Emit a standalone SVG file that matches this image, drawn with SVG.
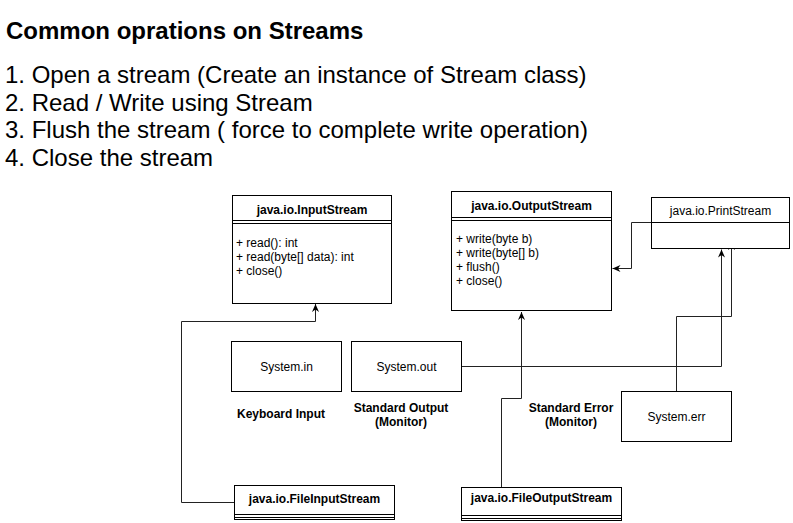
<svg xmlns="http://www.w3.org/2000/svg" width="793" height="523" viewBox="0 0 793 523">
  <style>
    .box { fill: #ffffff; stroke: #000000; stroke-width: 1; }
    .sep { stroke: #000000; stroke-width: 1; fill: none; }
    .edge { fill: none; stroke: #222222; stroke-width: 1; }
    text { font-family: "Liberation Sans", Arial, sans-serif; fill: #000000; }
    .h1 { font-size: 24px; font-weight: bold; }
    .list { font-size: 24px; }
    .cls { font-size: 12px; font-weight: bold; text-anchor: middle; }
    .member { font-size: 12px; }
    .name { font-size: 12px; text-anchor: middle; }
    .note { font-size: 12px; font-weight: bold; text-anchor: middle; }
  </style>
  <defs>
    <marker id="arrow" markerUnits="userSpaceOnUse" markerWidth="9" markerHeight="8" refX="8" refY="3.5" orient="auto">
      <path d="M0,0 L8,3.5 L0,7 L2.5,3.5 z" fill="#000000"/>
    </marker>
  </defs>

  <!-- heading and step list -->
  <g id="heading">
    <text class="h1" x="6" y="39">Common oprations on Streams</text>
  </g>
  <g id="steps">
    <text class="list" x="5" y="83">1. Open a stream (Create an instance of Stream class)</text>
    <text class="list" x="5" y="110.6">2. Read / Write using Stream</text>
    <text class="list" x="5" y="138.2">3. Flush the stream ( force to complete write operation)</text>
    <text class="list" x="5" y="165.8">4. Close the stream</text>
  </g>

  <!-- connectors -->
  <g id="connectors">
    <path class="edge" d="M234.5,502.5 H181.5 V321.5 H315.5 V304" marker-end="url(#arrow)"/>
    <path class="edge" d="M501.5,487.5 V398.5 H521.5 V312" marker-end="url(#arrow)"/>
    <path class="edge" d="M461.5,366.5 H721.5 V249.5" marker-end="url(#arrow)"/>
    <path class="edge" d="M676.5,391.5 V316.5 H731.5 V242" marker-end="url(#arrow)"/>
    <path class="edge" d="M651.5,222.5 H631.5 V268.5 H612.5" marker-end="url(#arrow)"/>
  </g>

  <!-- class boxes -->
  <g id="InputStream">
    <rect class="box" x="232.5" y="195.5" width="159" height="108"/>
    <path class="sep" d="M232.5,220.5 H391.5 M232.5,223.5 H391.5"/>
    <text class="cls" x="312" y="213.5">java.io.InputStream</text>
    <text class="member" x="236" y="246.5">+ read(): int</text>
    <text class="member" x="236" y="260.5">+ read(byte[] data): int</text>
    <text class="member" x="236" y="274.5">+ close()</text>
  </g>

  <g id="OutputStream">
    <rect class="box" x="451.5" y="191.5" width="160" height="119"/>
    <path class="sep" d="M451.5,217.5 H611.5 M451.5,220.5 H611.5"/>
    <text class="cls" x="531.5" y="209.5">java.io.OutputStream</text>
    <text class="member" x="456" y="242.5">+ write(byte b)</text>
    <text class="member" x="456" y="256.5">+ write(byte[] b)</text>
    <text class="member" x="456" y="270.5">+ flush()</text>
    <text class="member" x="456" y="284.5">+ close()</text>
  </g>

  <g id="PrintStream">
    <rect class="box" x="651.5" y="197.5" width="138" height="51"/>
    <path class="sep" d="M651.5,222.5 H789.5"/>
    <text class="name" x="720.5" y="214.5">java.io.PrintStream</text>
  </g>

  <g id="SystemIn">
    <rect class="box" x="231.5" y="341.5" width="110" height="50"/>
    <text class="name" x="286.5" y="370.5">System.in</text>
  </g>

  <g id="SystemOut">
    <rect class="box" x="351.5" y="341.5" width="110" height="50"/>
    <text class="name" x="406.5" y="370.5">System.out</text>
  </g>

  <g id="SystemErr">
    <rect class="box" x="621.5" y="391.5" width="110" height="50"/>
    <text class="name" x="676.5" y="421">System.err</text>
  </g>

  <g id="FileInputStream">
    <rect class="box" x="234.5" y="485.5" width="160" height="34"/>
    <path class="sep" d="M234.5,514.5 H394.5 M234.5,517.5 H394.5"/>
    <text class="cls" x="314.5" y="502.5">java.io.FileInputStream</text>
  </g>

  <g id="FileOutputStream">
    <rect class="box" x="461.5" y="487.5" width="160" height="33"/>
    <path class="sep" d="M461.5,515.5 H621.5 M461.5,518.5 H621.5"/>
    <text class="cls" x="541.5" y="502">java.io.FileOutputStream</text>
  </g>

  <!-- captions -->
  <g id="KeyboardInput">
    <text class="note" x="281" y="418">Keyboard Input</text>
  </g>
  <g id="StandardOutput">
    <text class="note" x="401" y="411.5">Standard Output</text>
    <text class="note" x="401" y="425.5">(Monitor)</text>
  </g>
  <g id="StandardError">
    <text class="note" x="571" y="411.5">Standard Error</text>
    <text class="note" x="571" y="425.5">(Monitor)</text>
  </g>
</svg>
